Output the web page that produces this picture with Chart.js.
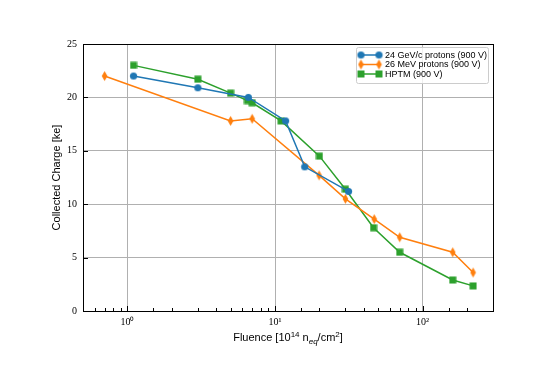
<!DOCTYPE html>
<html>
<head>
<meta charset="utf-8">
<script src="https://cdn.jsdelivr.net/npm/chart.js@4.4.0/dist/chart.umd.min.js"></script>
<style>
  html, body { margin: 0; padding: 0; background: #fff; }
</style>
</head>
<body>
<canvas id="chart" width="548" height="366"></canvas>
<script>
// data
const gevFluence = [1.1, 3.0, 6.6, 11.8, 15.9, 31.5];
const gevCharge = [22.0, 20.9, 20.0, 17.8, 13.5, 11.2];
const mevFluence = [0.7, 5.0, 7.0, 19.9, 30.0, 47, 70, 160, 220];
const mevCharge = [22.0, 17.8, 18.0, 12.7, 10.5, 8.6, 6.9, 5.5, 3.6];
const hptmFluence = [1.1, 3.0, 5.0, 6.5, 7.0, 11.0, 20.0, 30.0, 46.5, 70, 160, 220];
const hptmCharge = [23.0, 21.7, 20.4, 19.7, 19.5, 17.8, 14.5, 11.4, 7.8, 5.5, 2.9, 2.35];
const seriesLabels = ['24 GeV/c protons (900 V)', '26 MeV protons (900 V)', 'HPTM (900 V)'];
const seriesColors = ['#1f77b4', '#ff7f0e', '#2ca02c'];
const yTicks = [0, 5, 10, 15, 20, 25];
const xTickLabels = { 1: '10\u2070', 10: '10\u00b9', 100: '10\u00b2' };

const TICK_FONT = { family: 'Liberation Serif', size: 10 };
const LABEL_FONT = '11px "Liberation Sans"';

function toPoints(xs, ys) {
  return xs.map((x, i) => ({ x: x, y: ys[i] }));
}

function isPow10(v) {
  const l = Math.log10(v);
  return Math.abs(l - Math.round(l)) < 1e-9;
}

// marker images (matplotlib style o, d, s)
function markerCanvas(kind, color) {
  const c = document.createElement('canvas');
  const ctx = c.getContext('2d');
  if (kind === 'circle') {
    c.width = 9; c.height = 9;
    ctx.fillStyle = color;
    ctx.beginPath();
    ctx.arc(4.5, 4.5, 3.6, 0, Math.PI * 2);
    ctx.fill();
  } else if (kind === 'thin') {
    c.width = 7; c.height = 12;
    ctx.fillStyle = color;
    ctx.beginPath();
    ctx.moveTo(3.5, 1);
    ctx.lineTo(6.3, 6);
    ctx.lineTo(3.5, 11);
    ctx.lineTo(0.7, 6);
    ctx.closePath();
    ctx.fill();
  } else {
    c.width = 8; c.height = 8;
    ctx.fillStyle = color;
    ctx.fillRect(0.5, 0.5, 7, 7);
  }
  return c;
}

const markers = [
  markerCanvas('circle', seriesColors[0]),
  markerCanvas('thin', seriesColors[1]),
  markerCanvas('square', seriesColors[2])
];

function makeDataset(i, xs, ys) {
  return {
    label: seriesLabels[i],
    data: toPoints(xs, ys),
    borderColor: seriesColors[i],
    backgroundColor: seriesColors[i],
    borderWidth: 1.5,
    pointStyle: markers[i],
    pointRadius: 4,
    pointHoverRadius: 4,
    tension: 0
  };
}

// frame, inward ticks, titles and the in-plot legend
const decorPlugin = {
  id: 'decor',
  beforeDatasetsDraw(chart) {
    const ctx = chart.ctx;
    const xs = chart.scales.x;
    const ys = chart.scales.y;
    const a = chart.chartArea;
    ctx.save();
    ctx.strokeStyle = '#000';
    ctx.lineWidth = 1;
    ctx.beginPath();
    xs.ticks.forEach(t => {
      const px = Math.round(xs.getPixelForValue(t.value)) + 0.5;
      const len = isPow10(t.value) ? 5 : 3;
      ctx.moveTo(px, a.bottom);
      ctx.lineTo(px, a.bottom - len);
    });
    ys.ticks.forEach(t => {
      const py = Math.round(ys.getPixelForValue(t.value)) + 0.5;
      ctx.moveTo(a.left, py);
      ctx.lineTo(a.left + 5, py);
    });
    ctx.stroke();
    ctx.restore();
  },
  afterDraw(chart) {
    const ctx = chart.ctx;
    const a = chart.chartArea;
    ctx.save();
    // frame
    ctx.strokeStyle = '#000';
    ctx.lineWidth = 1;
    ctx.strokeRect(Math.round(a.left) + 0.5, Math.round(a.top) + 0.5,
      Math.round(a.right - a.left), Math.round(a.bottom - a.top));

    // y title
    ctx.fillStyle = '#000';
    ctx.font = LABEL_FONT;
    ctx.textAlign = 'center';
    ctx.textBaseline = 'middle';
    ctx.save();
    ctx.translate(57, (a.top + a.bottom) / 2);
    ctx.rotate(-Math.PI / 2);
    ctx.fillText('Collected Charge [ke]', 0, 0);
    ctx.restore();

    // x title with sub/superscripts
    const parts = [
      ['Fluence [10', 0, 11, ''],
      ['14', -4, 8, ''],
      [' n', 0, 11, ''],
      ['eq', 2.5, 8, 'italic '],
      ['/cm', 0, 11, ''],
      ['2', -4, 8, ''],
      [']', 0, 11, '']
    ];
    let total = 0;
    parts.forEach(p => {
      ctx.font = p[3] + p[2] + 'px "Liberation Sans"';
      total += ctx.measureText(p[0]).width;
    });
    let x = (a.left + a.right) / 2 - total / 2;
    const baseY = 341;
    ctx.textAlign = 'left';
    ctx.textBaseline = 'alphabetic';
    parts.forEach(p => {
      ctx.font = p[3] + p[2] + 'px "Liberation Sans"';
      ctx.fillText(p[0], x, baseY + p[1]);
      x += ctx.measureText(p[0]).width;
    });

    // legend
    const bw = 132, bh = 36;
    const bx = a.right - 5 - bw, by = a.top + 3;
    ctx.fillStyle = 'rgba(255,255,255,0.8)';
    ctx.strokeStyle = '#cccccc';
    ctx.lineWidth = 1;
    ctx.beginPath();
    ctx.roundRect(bx + 0.5, by + 0.5, bw, bh, 2);
    ctx.fill();
    ctx.stroke();
    ctx.font = '9px "Liberation Sans"';
    ctx.textBaseline = 'middle';
    chart.data.datasets.forEach((ds, i) => {
      const ry = by + 8 + i * 9.5;
      const x0 = bx + 5, x1 = bx + 23;
      ctx.strokeStyle = ds.borderColor;
      ctx.lineWidth = 1.5;
      ctx.beginPath();
      ctx.moveTo(x0, ry);
      ctx.lineTo(x1, ry);
      ctx.stroke();
      const m = markers[i];
      ctx.drawImage(m, x0 - m.width / 2, ry - m.height / 2);
      ctx.drawImage(m, x1 - m.width / 2, ry - m.height / 2);
      ctx.fillStyle = '#000';
      ctx.fillText(ds.label, bx + 29, ry + 0.5);
    });
    ctx.restore();
  }
};

new Chart(document.getElementById('chart'), {
  type: 'line',
  data: {
    datasets: [
      makeDataset(0, gevFluence, gevCharge),
      makeDataset(1, mevFluence, mevCharge),
      makeDataset(2, hptmFluence, hptmCharge)
    ]
  },
  options: {
    responsive: false,
    animation: false,
    devicePixelRatio: 1,
    layout: { padding: { left: 0, right: 55, top: 44, bottom: 0 } },
    plugins: {
      legend: { display: false },
      tooltip: { enabled: false }
    },
    scales: {
      x: {
        type: 'logarithmic',
        min: 0.5,
        max: 300,
        afterFit(scale) { scale.height = 55; },
        border: { display: false },
        grid: {
          drawTicks: false,
          color: c => (c.tick && isPow10(c.tick.value)) ? '#b0b0b0' : 'rgba(0,0,0,0)',
          lineWidth: 1
        },
        ticks: {
          autoSkip: false,
          maxRotation: 0,
          padding: 5,
          color: '#000',
          font: TICK_FONT,
          callback: v => xTickLabels[Math.round(v * 1000) / 1000] || ''
        }
      },
      y: {
        min: 0,
        max: 25,
        afterFit(scale) { scale.width = 83; },
        afterBuildTicks(scale) { scale.ticks = yTicks.map(v => ({ value: v })); },
        border: { display: false },
        grid: { drawTicks: false, color: '#b0b0b0', lineWidth: 1 },
        ticks: {
          padding: 6,
          color: '#000',
          font: TICK_FONT
        }
      }
    }
  },
  plugins: [decorPlugin]
});
</script>
</body>
</html>
